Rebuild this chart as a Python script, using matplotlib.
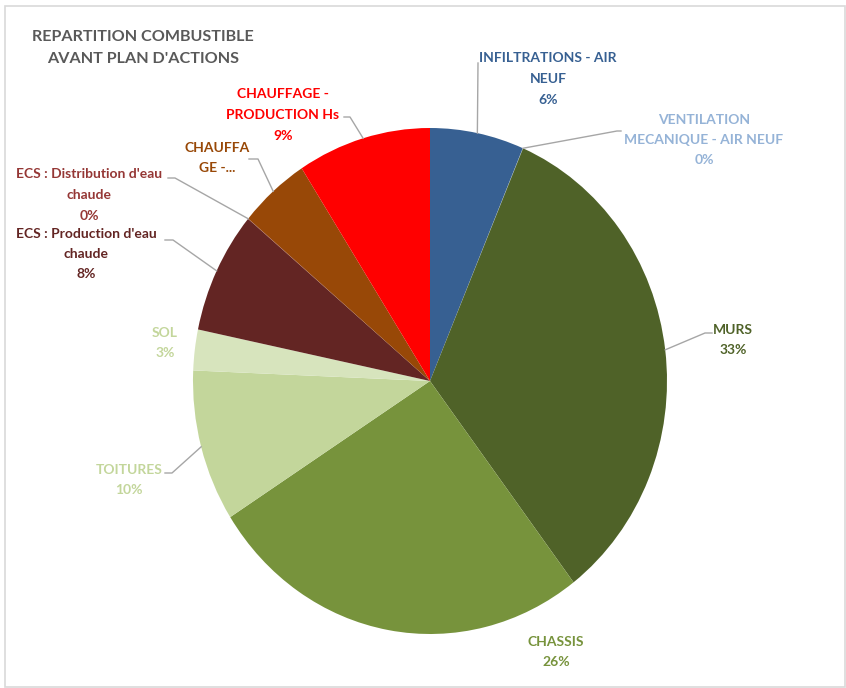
import numpy as np
import matplotlib.pyplot as plt
from matplotlib.patches import Rectangle

plt.rcParams['font.family'] = ['Lato', 'DejaVu Sans']

# repartition des consommations de combustible (%)
categories = ["INFILTRATIONS - AIR\nNEUF", "VENTILATION\nMECANIQUE - AIR NEUF", "MURS", "CHASSIS",
              "TOITURES", "SOL", "ECS : Production d'eau\nchaude", "ECS : Distribution d'eau\nchaude",
              "CHAUFFA\nGE -...", "CHAUFFAGE -\nPRODUCTION Hs"]
values = [6.4, 0.02, 33.2, 26.3, 9.7, 2.6, 7.8, 0.02, 4.8, 9.1]
show_pct = [True, True, True, True, True, True, True, True, False, True]
colors = ["#376092", "#95B3D7", "#4F6228", "#77933C", "#C3D69B", "#D7E4BD",
          "#632523", "#953735", "#984807", "#FF0000"]
label_colors = ["#376092", "#95B3D7", "#4F6228", "#77933C", "#C3D69B", "#C3D69B",
                "#632523", "#953735", "#984807", "#FF0000"]

W, H = 846, 688
cx, cy, rx, ry = 430, 381, 237, 253

fig = plt.figure(figsize=(W / 100, H / 100), dpi=100)

ax = fig.add_axes([(cx - rx) / W, (H - cy - ry) / H, 2 * rx / W, 2 * ry / H])
ax.pie(values, colors=colors, startangle=90, counterclock=False, radius=1,
       wedgeprops=dict(linewidth=0))
ax.set_xlim(-1, 1)
ax.set_ylim(-1, 1)
ax.set_aspect('auto')

# calque en pixels pour titres, etiquettes et traits de rappel
ov = fig.add_axes([0, 0, 1, 1], zorder=5)
ov.set_xlim(0, W)
ov.set_ylim(H, 0)
ov.axis('off')
ov.patch.set_alpha(0)

ov.add_patch(Rectangle((5, 6), W - 6, H - 7, fill=False, edgecolor="#D9D9D9", lw=1.2))

ov.text(143, 48, "REPARTITION COMBUSTIBLE\nAVANT PLAN D'ACTIONS", ha='center', va='center',
        fontsize=11.6, fontweight='bold', color="#595959", linespacing=1.7)

label_pos = [(548, 79), (704, 140), (733, 340), (556, 652), (129, 480),
             (165, 343), (86, 254), (89, 195), (217, 158), (283, 115)]
leader_pts = [
    [(478, 63)],
    [(617, 131), (621, 131)],
    [(705, 333), (712, 333)],
    None,
    [(172, 473), (165, 473)],
    None,
    [(173, 240), (165, 240)],
    [(175, 178), (168, 178)],
    [(258, 159), (249, 159)],
    [(350, 117), (344, 117)],
]

total = sum(values)
cum = np.cumsum([0] + values) / total
for i, name in enumerate(categories):
    pct = values[i] / total * 100
    txt = name + (f"\n{round(pct):.0f}%" if show_pct[i] else "")
    ov.text(*label_pos[i], txt, ha='center', va='center', fontsize=10,
            fontweight='bold', color=label_colors[i], linespacing=1.85)
    if leader_pts[i] is not None:
        theta = 2 * np.pi * (cum[i] + cum[i + 1]) / 2
        ax_pt = (cx + rx * np.sin(theta), cy - ry * np.cos(theta))
        pts = [ax_pt] + leader_pts[i]
        ov.plot([p[0] for p in pts], [p[1] for p in pts], color="#A6A6A6", lw=1)

fig.savefig("out.png", dpi=100)
